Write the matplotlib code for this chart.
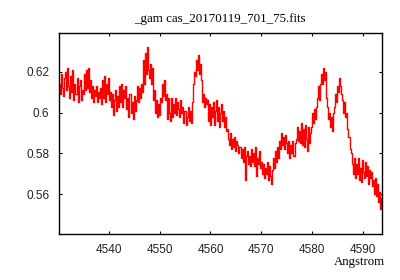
import matplotlib
matplotlib.use("Agg")
import matplotlib.pyplot as plt

title = "_gam cas_20170119_701_75.fits"
xlabel = "Angstrom"
xticks = [4540, 4550, 4560, 4570, 4580, 4590]
yticks = [0.56, 0.58, 0.60, 0.62]
ytick_labels = ["0.56", "0.58", "0.6", "0.62"]

wave = [
    4530.4, 4530.6, 4530.8, 4531.0, 4531.2, 4531.4, 4531.6, 4531.8, 4532.0, 4532.2,
    4532.4, 4532.6, 4532.8, 4533.0, 4533.2, 4533.4, 4533.6, 4533.8, 4534.0, 4534.2,
    4534.4, 4534.6, 4534.8, 4535.0, 4535.2, 4535.4, 4535.6, 4535.8, 4536.0, 4536.2,
    4536.4, 4536.6, 4536.8, 4537.0, 4537.2, 4537.4, 4537.6, 4537.8, 4538.0, 4538.2,
    4538.4, 4538.6, 4538.8, 4539.0, 4539.2, 4539.4, 4539.6, 4539.8, 4540.0, 4540.2,
    4540.4, 4540.6, 4540.8, 4541.0, 4541.2, 4541.4, 4541.6, 4541.8, 4542.0, 4542.2,
    4542.4, 4542.6, 4542.8, 4543.0, 4543.2, 4543.4, 4543.6, 4543.8, 4544.0, 4544.2,
    4544.4, 4544.6, 4544.8, 4545.0, 4545.2, 4545.4, 4545.6, 4545.8, 4546.0, 4546.2,
    4546.4, 4546.6, 4546.8, 4547.0, 4547.2, 4547.4, 4547.6, 4547.8, 4548.0, 4548.2,
    4548.4, 4548.6, 4548.8, 4549.0, 4549.2, 4549.4, 4549.6, 4549.8, 4550.0, 4550.2,
    4550.4, 4550.6, 4550.8, 4551.0, 4551.2, 4551.4, 4551.6, 4551.8, 4552.0, 4552.2,
    4552.4, 4552.6, 4552.8, 4553.0, 4553.2, 4553.4, 4553.6, 4553.8, 4554.0, 4554.2,
    4554.4, 4554.6, 4554.8, 4555.0, 4555.2, 4555.4, 4555.6, 4555.8, 4556.0, 4556.2,
    4556.4, 4556.6, 4556.8, 4557.0, 4557.2, 4557.4, 4557.6, 4557.8, 4558.0, 4558.2,
    4558.4, 4558.6, 4558.8, 4559.0, 4559.2, 4559.4, 4559.6, 4559.8, 4560.0, 4560.2,
    4560.4, 4560.6, 4560.8, 4561.0, 4561.2, 4561.4, 4561.6, 4561.8, 4562.0, 4562.2,
    4562.4, 4562.6, 4562.8, 4563.0, 4563.2, 4563.4, 4563.6, 4563.8, 4564.0, 4564.2,
    4564.4, 4564.6, 4564.8, 4565.0, 4565.2, 4565.4, 4565.6, 4565.8, 4566.0, 4566.2,
    4566.4, 4566.6, 4566.8, 4567.0, 4567.2, 4567.4, 4567.6, 4567.8, 4568.0, 4568.2,
    4568.4, 4568.6, 4568.8, 4569.0, 4569.2, 4569.4, 4569.6, 4569.8, 4570.0, 4570.2,
    4570.4, 4570.6, 4570.8, 4571.0, 4571.2, 4571.4, 4571.6, 4571.8, 4572.0, 4572.2,
    4572.4, 4572.6, 4572.8, 4573.0, 4573.2, 4573.4, 4573.6, 4573.8, 4574.0, 4574.2,
    4574.4, 4574.6, 4574.8, 4575.0, 4575.2, 4575.4, 4575.6, 4575.8, 4576.0, 4576.2,
    4576.4, 4576.6, 4576.8, 4577.0, 4577.2, 4577.4, 4577.6, 4577.8, 4578.0, 4578.2,
    4578.4, 4578.6, 4578.8, 4579.0, 4579.2, 4579.4, 4579.6, 4579.8, 4580.0, 4580.2,
    4580.4, 4580.6, 4580.8, 4581.0, 4581.2, 4581.4, 4581.6, 4581.8, 4582.0, 4582.2,
    4582.4, 4582.6, 4582.8, 4583.0, 4583.2, 4583.4, 4583.6, 4583.8, 4584.0, 4584.2,
    4584.4, 4584.6, 4584.8, 4585.0, 4585.2, 4585.4, 4585.6, 4585.8, 4586.0, 4586.2,
    4586.4, 4586.6, 4586.8, 4587.0, 4587.2, 4587.4, 4587.6, 4587.8, 4588.0, 4588.2,
    4588.4, 4588.6, 4588.8, 4589.0, 4589.2, 4589.4, 4589.6, 4589.8, 4590.0, 4590.2,
    4590.4, 4590.6, 4590.8, 4591.0, 4591.2, 4591.4, 4591.6, 4591.8, 4592.0, 4592.2,
    4592.4, 4592.6, 4592.8, 4593.0, 4593.2, 4593.4, 4593.6]

flux = [
    0.614, 0.609, 0.619, 0.612, 0.608, 0.617, 0.620, 0.611, 0.622, 0.613,
    0.607, 0.618, 0.610, 0.621, 0.606, 0.614, 0.609, 0.617, 0.605, 0.613,
    0.616, 0.606, 0.611, 0.609, 0.619, 0.611, 0.621, 0.612, 0.622, 0.610,
    0.616, 0.607, 0.613, 0.605, 0.611, 0.608, 0.613, 0.605, 0.610, 0.607,
    0.612, 0.604, 0.616, 0.607, 0.618, 0.605, 0.614, 0.609, 0.617, 0.606,
    0.610, 0.603, 0.609, 0.599, 0.606, 0.611, 0.601, 0.608, 0.603, 0.613,
    0.605, 0.614, 0.603, 0.611, 0.607, 0.613, 0.602, 0.607, 0.598, 0.609,
    0.600, 0.605, 0.597, 0.608, 0.601, 0.606, 0.613, 0.605, 0.612, 0.607,
    0.614, 0.610, 0.626, 0.614, 0.629, 0.619, 0.632, 0.621, 0.617, 0.624,
    0.614, 0.622, 0.606, 0.611, 0.600, 0.606, 0.598, 0.604, 0.599, 0.607,
    0.605, 0.614, 0.608, 0.616, 0.606, 0.609, 0.597, 0.607, 0.600, 0.596,
    0.607, 0.598, 0.604, 0.600, 0.607, 0.599, 0.605, 0.602, 0.598, 0.606,
    0.600, 0.603, 0.595, 0.601, 0.594, 0.598, 0.603, 0.596, 0.601, 0.595,
    0.605, 0.614, 0.620, 0.618, 0.626, 0.621, 0.628, 0.619, 0.624, 0.616,
    0.605, 0.609, 0.603, 0.607, 0.604, 0.606, 0.596, 0.604, 0.594, 0.603,
    0.598, 0.605, 0.594, 0.601, 0.606, 0.596, 0.603, 0.593, 0.600, 0.604,
    0.596, 0.601, 0.593, 0.598, 0.591, 0.592, 0.587, 0.584, 0.590, 0.582,
    0.587, 0.583, 0.588, 0.581, 0.586, 0.584, 0.580, 0.583, 0.578, 0.582,
    0.576, 0.583, 0.567, 0.579, 0.581, 0.575, 0.579, 0.574, 0.582, 0.576,
    0.580, 0.574, 0.583, 0.569, 0.578, 0.575, 0.581, 0.573, 0.576, 0.570,
    0.575, 0.568, 0.573, 0.570, 0.576, 0.567, 0.574, 0.569, 0.565, 0.572,
    0.578, 0.573, 0.581, 0.576, 0.583, 0.578, 0.586, 0.582, 0.590, 0.584,
    0.588, 0.582, 0.589, 0.585, 0.580, 0.586, 0.578, 0.584, 0.580, 0.586,
    0.579, 0.585, 0.587, 0.593, 0.586, 0.591, 0.585, 0.595, 0.584, 0.592,
    0.583, 0.594, 0.587, 0.581, 0.593, 0.585, 0.590, 0.593, 0.600, 0.595,
    0.602, 0.597, 0.603, 0.607, 0.613, 0.606, 0.614, 0.619, 0.614, 0.622,
    0.616, 0.620, 0.607, 0.603, 0.597, 0.600, 0.593, 0.598, 0.591, 0.600,
    0.603, 0.609, 0.605, 0.613, 0.610, 0.617, 0.613, 0.609, 0.606, 0.600,
    0.605, 0.598, 0.600, 0.592, 0.588, 0.582, 0.580, 0.575, 0.570, 0.578,
    0.568, 0.575, 0.570, 0.578, 0.567, 0.573, 0.566, 0.577, 0.571, 0.568,
    0.576, 0.569, 0.574, 0.565, 0.572, 0.568, 0.571, 0.564, 0.567, 0.560,
    0.568, 0.559, 0.565, 0.556, 0.561, 0.553, 0.558]

fig = plt.figure(figsize=(4.0, 2.8), dpi=100)
ax = fig.add_axes([0.148, 0.164, 0.806, 0.718])
ax.plot(wave, flux, color="#ff0000", lw=1.0, drawstyle="steps-mid")
ax.set_xlim(4530.3, 4593.6)
ax.set_ylim(0.5405, 0.639)
ax.set_xticks(xticks)
ax.set_xticklabels([str(t) for t in xticks])
ax.set_yticks(yticks)
ax.set_yticklabels(ytick_labels)
ax.tick_params(direction="in", length=2.2, width=0.8, top=True, right=True,
               labelsize=8.5, pad=7, colors="black")
for lab in ax.get_xticklabels() + ax.get_yticklabels():
    lab.set_family("Liberation Sans")
    lab.set_color("#222222")
for s in ax.spines.values():
    s.set_linewidth(1.0)
ax.set_title(title, family="Liberation Serif", fontsize=9.4, pad=8)
fig.text(0.962, 0.055, xlabel, family="Liberation Serif", fontsize=9.2, ha="right", va="baseline")
fig.savefig("out.png", dpi=100)
